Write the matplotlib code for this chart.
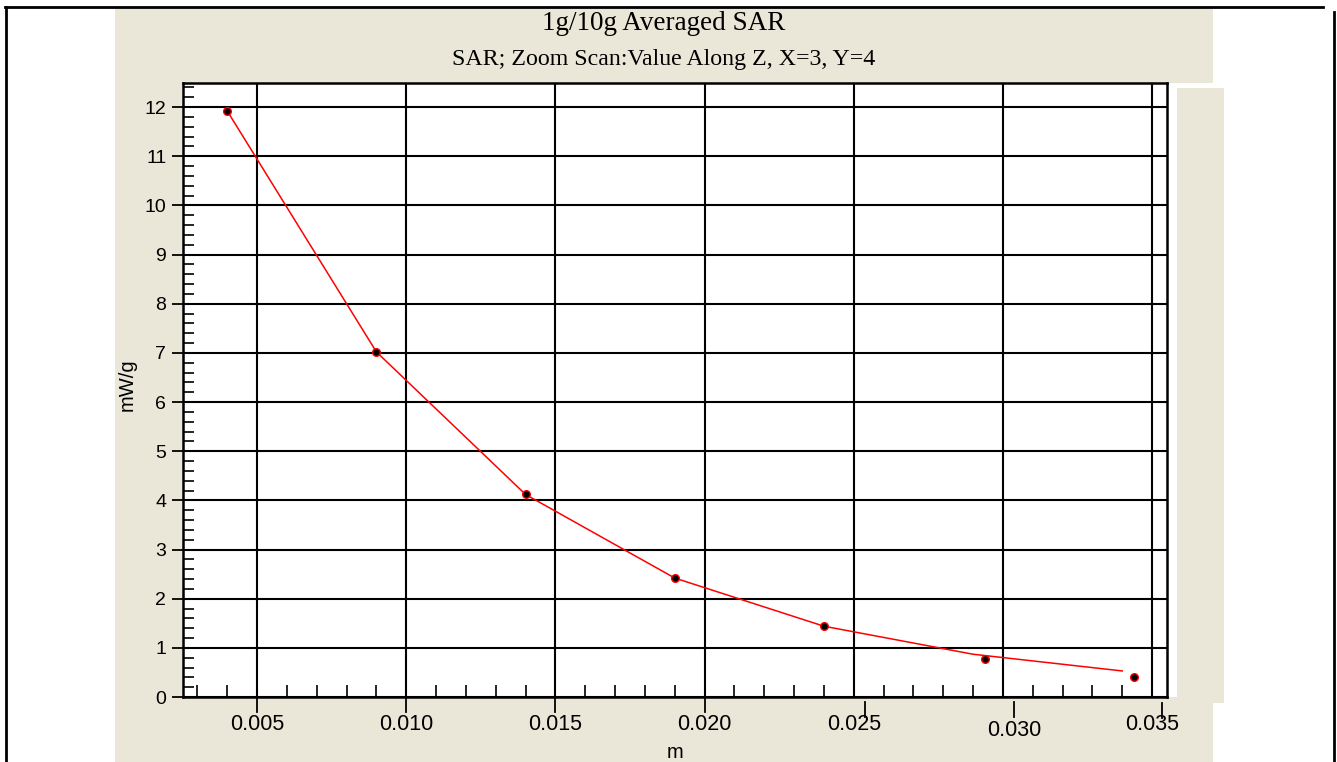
# Gráfico: SAR promediado 1g/10g a lo largo de Z
# Objetivo: reproducir la curva de SAR (mW/g) frente a la distancia Z (m)

import matplotlib
matplotlib.use('Agg')                            # Sin pantalla, solo guardar imagen
import matplotlib.pyplot as plt                  # Para crear gráficos
from matplotlib.patches import Rectangle         # Para los paneles de fondo
from matplotlib.lines import Line2D              # Para el marco exterior
from matplotlib.ticker import MultipleLocator    # Para las marcas menores
from matplotlib.transforms import ScaledTranslation

# Datos
z_linea = [0.004, 0.009, 0.014, 0.019, 0.024, 0.029, 0.034]        # Z de la curva (m)
sar_linea = [11.92, 7.02, 4.12, 2.42, 1.44, 0.87, 0.53]              # SAR de la curva (mW/g)
z_puntos = [0.004, 0.009, 0.014, 0.019, 0.024, 0.0294, 0.0344]      # Z de los puntos medidos (m)
sar_puntos = [11.92, 7.02, 4.12, 2.42, 1.44, 0.77, 0.41]             # SAR de los puntos medidos (mW/g)

ticks_x = [0.005, 0.010, 0.015, 0.020, 0.025, 0.030, 0.035]         # Marcas mayores del eje x
etiquetas_x = ['0.005', '0.010', '0.015', '0.020', '0.025', '0.030', '0.035']
ticks_y = list(range(0, 13))                                         # Marcas mayores del eje y

titulo = '1g/10g Averaged SAR'
subtitulo = 'SAR; Zoom Scan:Value Along Z, X=3, Y=4'

# Pequeños desfases (px) de las marcas exteriores del eje x, como en el original
desfase_tick = [0, 0, 0, 0, 11, 11, 10]
caida_tick = [0, 0, 0, 0, 5, 5, 6]
desfase_etiqueta = [0, 0, 0, 0, 0, 11, 0]
caida_etiqueta = [0, 0, 0, 0, 0, 5, 0]

# Tamaño de la figura en píxeles
W, H = 1337, 762
beige = '#EAE7D8'

fig = plt.figure(figsize=(W / 100, H / 100), dpi=100)
fig.patch.set_facecolor('white')


def rect_px(x0, y0, x1, y1, color):
    # Rectángulo en coordenadas de píxel (origen arriba a la izquierda)
    r = Rectangle((x0 / W, 1 - y1 / H), (x1 - x0) / W, (y1 - y0) / H,
                  transform=fig.transFigure, facecolor=color,
                  edgecolor='none', zorder=-5)
    fig.add_artist(r)


def linea_px(xs, ys, lw=2.0):
    # Línea del marco en coordenadas de píxel
    fig.add_artist(Line2D([x / W for x in xs], [1 - y / H for y in ys],
                          transform=fig.transFigure, color='black', lw=lw))


# Paneles de fondo beige
rect_px(115, 8, 1213, 762, beige)
rect_px(1167, 83, 1213, 697, 'white')
rect_px(1177, 88, 1224, 703, beige)

# Marco exterior
linea_px([6, 6], [7, 762])
linea_px([5, 1323], [7, 7])
linea_px([1334, 1334], [12, 762])

# Ejes principales
ax_x0, ax_y0, ax_x1, ax_y1 = 183, 83, 1167, 697
ax = fig.add_axes([ax_x0 / W, 1 - ax_y1 / H, (ax_x1 - ax_x0) / W, (ax_y1 - ax_y0) / H])
ax.set_facecolor('white')
alto_ejes = ax_y1 - ax_y0

# Curva roja y puntos medidos
ax.plot(z_linea, sar_linea, color='red', lw=1.1, zorder=3)
ax.plot(z_puntos, sar_puntos, linestyle='none', marker='o', markersize=5.5,
        markerfacecolor='black', markeredgecolor='red', markeredgewidth=1.0, zorder=4)

ax.set_xlim(0.002517, 0.0355)
ax.set_ylim(0, 12.49)

# Marcas y rejilla
ax.set_xticks(ticks_x)
ax.set_xticklabels([])
ax.set_yticks(ticks_y)
ax.xaxis.set_minor_locator(MultipleLocator(0.001))
ax.yaxis.set_minor_locator(MultipleLocator(0.2))
ax.tick_params(axis='x', which='major', length=0)
ax.tick_params(axis='x', which='minor', direction='in', length=9, width=1.2, color='black')
ax.tick_params(axis='y', which='major', direction='out', length=8, width=1.3,
               pad=4, labelsize=14)
ax.tick_params(axis='y', which='minor', direction='in', length=8, width=1.2)
for lab in ax.get_yticklabels():
    lab.set_family('Liberation Sans')
ax.grid(True, which='major', color='black', lw=1.5)

for lado in ['left', 'right', 'top', 'bottom']:
    ax.spines[lado].set_linewidth(1.8)
    ax.spines[lado].set_color('black')

# Marcas mayores exteriores y etiquetas del eje x (dibujadas a mano)
for i, xt in enumerate(ticks_x):
    off = ScaledTranslation(desfase_tick[i] / 100, 0, fig.dpi_scale_trans)
    ax.plot([xt, xt], [-caida_tick[i] / alto_ejes, -(caida_tick[i] + 15) / alto_ejes],
            transform=ax.get_xaxis_transform() + off,
            color='black', lw=1.3, clip_on=False)
    off_t = ScaledTranslation(desfase_etiqueta[i] / 100, 0, fig.dpi_scale_trans)
    ax.text(xt, -(28 + caida_etiqueta[i]) / alto_ejes, etiquetas_x[i],
            transform=ax.get_xaxis_transform() + off_t,
            ha='center', va='center', fontsize=15.5, family='Liberation Sans')

# Títulos y etiquetas de ejes
fig.text(664 / W, 1 - 24 / H, titulo, ha='center', va='center',
         fontsize=19.5, family='Liberation Serif')
fig.text(664 / W, 1 - 60 / H, subtitulo, ha='center', va='center',
         fontsize=17.2, family='Liberation Serif')
fig.text(127 / W, 1 - 385 / H, 'mW/g', rotation=90, ha='center', va='center',
         fontsize=14.5, family='Liberation Sans')
fig.text(675 / W, 1 - 752 / H, 'm', ha='center', va='center',
         fontsize=14.5, family='Liberation Sans')

plt.savefig('out.png', dpi=100)
